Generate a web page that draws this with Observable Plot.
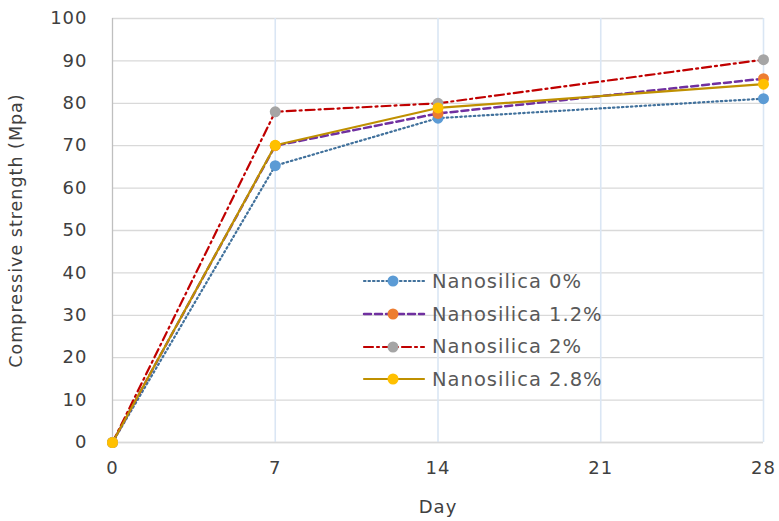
<!DOCTYPE html>
<html>
<head>
<meta charset="utf-8">
<script src="https://cdn.jsdelivr.net/npm/d3@7"></script>
<script src="https://cdn.jsdelivr.net/npm/@observablehq/plot@0.6"></script>
<style>
  html, body { margin: 0; padding: 0; background: #fff; }
  #wrap { position: relative; width: 779px; height: 521px; font-family: "DejaVu Sans", "Liberation Sans", sans-serif; }
  #legend { position: absolute; left: 362px; top: 265px; color: #595959; font-size: 19.5px; letter-spacing: 1px; }
  .row { display: flex; align-items: center; height: 32.7px; }
  .row svg { margin-right: 6px; }
  #chart svg text { letter-spacing: 1px; }
</style>
</head>
<body>
<div id="wrap"><div id="chart"></div><div id="legend"></div></div>
<script>
const days = [0, 7, 14, 28];
const seriesNames = ["Nanosilica 0%", "Nanosilica 1.2%", "Nanosilica 2%", "Nanosilica 2.8%"];
const ns0  = [0, 65.3, 76.5, 81.1];
const ns12 = [0, 70.0, 77.6, 85.8];
const ns2  = [0, 78.0, 80.0, 90.3];
const ns28 = [0, 70.1, 78.9, 84.5];
const yTicks = [0, 10, 20, 30, 40, 50, 60, 70, 80, 90, 100];
const xTicks = [0, 7, 14, 21, 28];

const values = [ns0, ns12, ns2, ns28];
const lineColors = ["#41719c", "#7030a0", "#c00000", "#bf9000"];
const markColors = ["#5b9bd5", "#ed7d31", "#a5a5a5", "#ffc000"];
const dashes = ["1.5,3", "7,4", "9,4,2,4", null];
const widths = [2.2, 2.5, 2.2, 2.2];

const data = [];
seriesNames.forEach((s, i) => days.forEach((d, j) => data.push({series: s, idx: i, day: d, value: values[i][j]})));

const marks = [
  Plot.gridY(yTicks, {stroke: "#d9d9d9", strokeOpacity: 1, strokeWidth: 1.3}),
  Plot.gridX(xTicks.filter(d => d > 0), {stroke: "#dae6f4", strokeOpacity: 1, strokeWidth: 1.6}),
  Plot.ruleX([0], {stroke: "#bfbfbf", strokeWidth: 1.3}),
  Plot.ruleY([0], {stroke: "#d9d9d9", strokeWidth: 1.3}),
];
seriesNames.forEach((s, i) => {
  const sub = data.filter(d => d.idx === i);
  marks.push(Plot.line(sub, {x: "day", y: "value", stroke: lineColors[i], strokeWidth: widths[i], strokeDasharray: dashes[i], strokeLinecap: "round"}));
});
seriesNames.forEach((s, i) => {
  const sub = data.filter(d => d.idx === i);
  marks.push(Plot.dot(sub, {x: "day", y: "value", r: 5.5, fill: markColors[i], stroke: "none"}));
});

const chart = Plot.plot({
  width: 779,
  height: 521,
  marginLeft: 112,
  marginRight: 16,
  marginTop: 18,
  marginBottom: 79,
  style: {fontFamily: "'DejaVu Sans', 'Liberation Sans', sans-serif", fontSize: "18px", color: "#404040", background: "#fff"},
  x: {domain: [0, 28]},
  y: {domain: [0, 100]},
  marks: [
    ...marks,
    Plot.axisX({ticks: xTicks, tickSize: 0, tickPadding: 19, label: null, fill: "#404040"}),
    Plot.axisY({ticks: yTicks, tickSize: 0, tickPadding: 25, label: null, fill: "#404040"}),
    Plot.axisX({ticks: [], label: "Day", labelAnchor: "center", labelOffset: 70, labelArrow: "none", fill: "#404040"}),
    Plot.axisY({ticks: [], label: "Compressive strength (Mpa)", labelAnchor: "center", labelOffset: 103, labelArrow: "none", fill: "#404040", fontSize: 17.5})
  ]
});
document.getElementById("chart").appendChild(chart);

const legend = document.getElementById("legend");
seriesNames.forEach((s, i) => {
  const row = document.createElement("div");
  row.className = "row";
  const da = dashes[i] ? `stroke-dasharray="${dashes[i]}"` : "";
  row.innerHTML = `<svg width="64" height="20"><line x1="2" y1="10" x2="62" y2="10" stroke="${lineColors[i]}" stroke-width="${widths[i]}" ${da} stroke-linecap="round"/><circle cx="31" cy="10" r="5.5" fill="${markColors[i]}"/></svg><span>${s}</span>`;
  legend.appendChild(row);
});
</script>
</body>
</html>
